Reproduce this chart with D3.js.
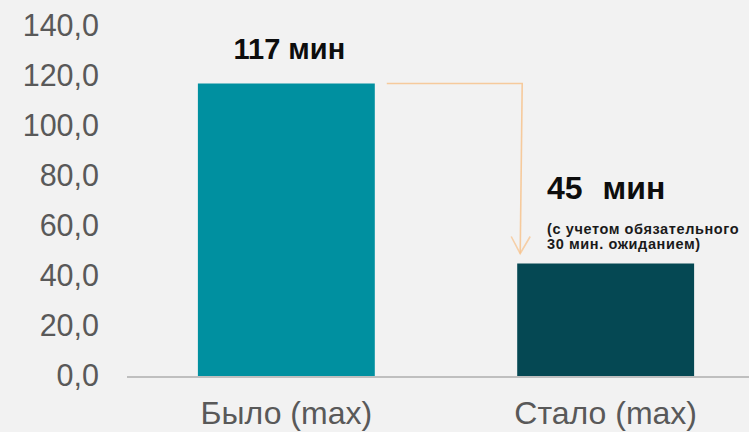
<!DOCTYPE html>
<html>
<head>
<meta charset="utf-8">
<script src="https://cdn.jsdelivr.net/npm/d3@7"></script>
<style>
  html, body { margin: 0; padding: 0; background: #f2f2f2; }
  svg { display: block; font-family: 'Liberation Sans', Arial, sans-serif; }
</style>
</head>
<body>
<div class="canvas"></div>
<script>
const categories = ['Было (max)', 'Стало (max)'];
const values = [117, 45];
const valueLabels = ['117', '45'];
const unitLabel = 'мин';
const noteLines = ['(с учетом обязательного', '30 мин. ожиданием)'];
const yTicks = [0, 20, 40, 60, 80, 100, 120, 140];
const barColors = ['#0090a0', '#054853'];

const svgDims = { width: 749, height: 432 };
const margin = { top: 26, right: 0, bottom: 56, left: 127 };
const graphHeight = svgDims.height - margin.top - margin.bottom;

const svg = d3.selectAll('.canvas')
    .append('svg')
    .attr('width', svgDims.width)
    .attr('height', svgDims.height);

svg.append('rect')
    .attr('width', svgDims.width)
    .attr('height', svgDims.height)
    .attr('fill', '#f2f2f2');

const graph = svg.append('g')
    .attr('transform', `translate(${margin.left}, ${margin.top})`);

const x = d3.scaleBand()
    .domain(categories)
    .range([0, 638])
    .paddingInner(0.446)
    .paddingOuter(0.222);

const y = d3.scaleLinear()
    .domain([0, 140])
    .range([graphHeight, 0]);

// y axis labels
const yAxis = d3.axisLeft(y)
    .tickValues(yTicks)
    .tickSize(0)
    .tickPadding(28)
    .tickFormat(d => d3.format('.1f')(d).replace('.', ','));

const yAxisGroup = graph.append('g').call(yAxis);
yAxisGroup.select('.domain').remove();
yAxisGroup.selectAll('text')
    .attr('fill', '#595959')
    .style('font-size', '30.5px')
    .style('font-family', "'Liberation Sans', Arial, sans-serif");

// bars
graph.selectAll('rect.bar')
    .data(values)
    .enter()
    .append('rect')
        .attr('class', 'bar')
        .attr('x', (d, i) => x(categories[i]))
        .attr('y', d => y(d))
        .attr('width', x.bandwidth())
        .attr('height', d => graphHeight - y(d))
        .attr('fill', (d, i) => barColors[i]);

// baseline
graph.append('line')
    .attr('x1', 0)
    .attr('x2', svgDims.width)
    .attr('y1', graphHeight + 1)
    .attr('y2', graphHeight + 1)
    .attr('stroke', '#bfbfbf')
    .attr('stroke-width', 2);

// category labels
const xAxis = d3.axisBottom(x).tickSize(0).tickPadding(25);
const xAxisGroup = graph.append('g')
    .attr('transform', `translate(0, ${graphHeight})`)
    .call(xAxis);
xAxisGroup.select('.domain').remove();
xAxisGroup.selectAll('text')
    .attr('fill', '#595959')
    .style('font-size', '32px')
    .style('font-family', "'Liberation Sans', Arial, sans-serif");

// value labels
const cx = i => x(categories[i]) + x.bandwidth() / 2;

graph.append('text')
    .attr('x', cx(0) + 3)
    .attr('y', y(values[0]) - 25)
    .attr('text-anchor', 'middle')
    .attr('font-weight', 'bold')
    .attr('font-size', 29)
    .attr('fill', '#0d0d0d')
    .text(`${valueLabels[0]} ${unitLabel}`);

const label2 = graph.append('text')
    .attr('x', 547 - margin.left)
    .attr('y', y(values[1]) - 65)
    .attr('font-weight', 'bold')
    .attr('font-size', 32)
    .attr('fill', '#0d0d0d');
label2.append('tspan').text(valueLabels[1]);
label2.append('tspan').attr('dx', 20).text(unitLabel);

graph.selectAll('text.note')
    .data(noteLines)
    .enter()
    .append('text')
        .attr('class', 'note')
        .attr('x', 547 - margin.left)
        .attr('y', (d, i) => y(values[1]) - 30 + i * 15.5)
        .attr('font-weight', 'bold')
        .attr('font-size', 14.5)
        .attr('letter-spacing', 0.6)
        .attr('fill', '#1a1a1a')
        .text(d => d);

// arrow from old value to new value
const arrowX = x(categories[1]) + 3;
const arrowTip = y(values[1]) - 10;
graph.append('path')
    .attr('d', `M${x(categories[0]) + x.bandwidth() + 12},${y(values[0])} H${arrowX + 2} L${arrowX},${arrowTip}`)
    .attr('fill', 'none')
    .attr('stroke', '#f7c38d')
    .attr('stroke-opacity', 0.85)
    .attr('stroke-width', 1.6);
graph.append('path')
    .attr('d', `M${arrowX - 9},${arrowTip - 17} L${arrowX},${arrowTip} L${arrowX + 10},${arrowTip - 17}`)
    .attr('fill', 'none')
    .attr('stroke', '#f7c38d')
    .attr('stroke-opacity', 0.75)
    .attr('stroke-width', 1.6);
</script>
</body>
</html>
